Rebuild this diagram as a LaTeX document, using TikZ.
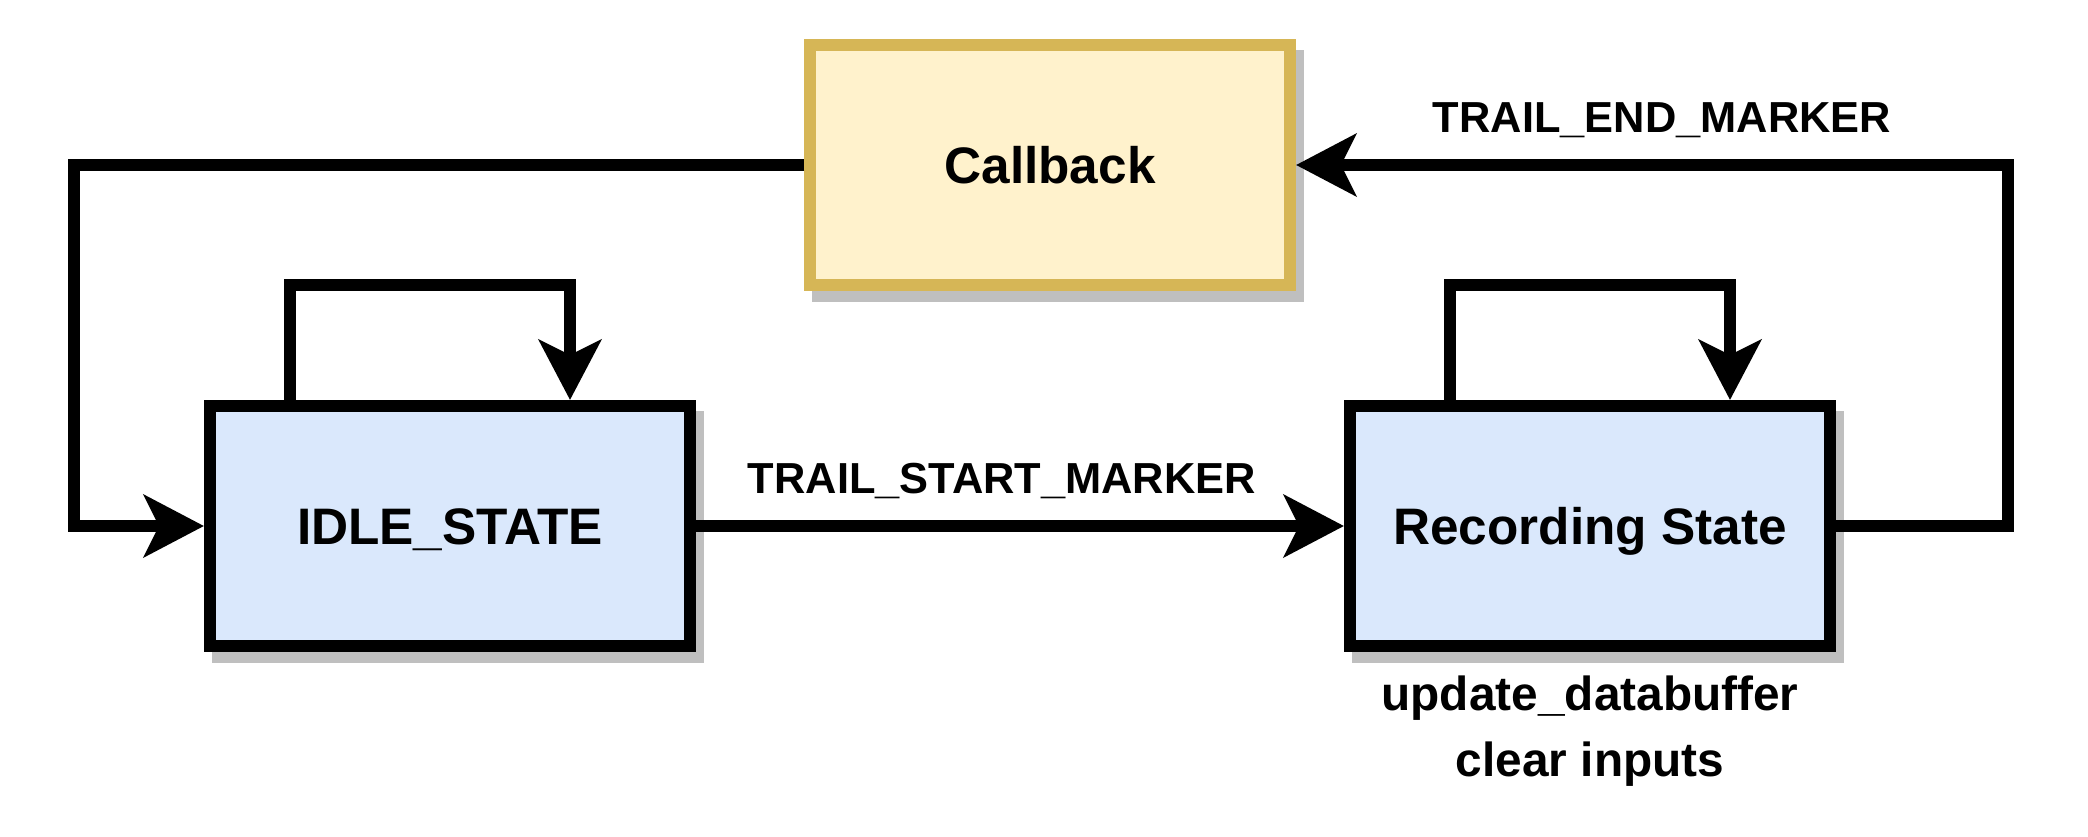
\documentclass[tikz,border=0pt]{standalone}
\usepackage{fontspec}
\setmainfont{Liberation Sans}
\usepackage{xcolor}
\usepackage{tikz}
\usetikzlibrary{arrows.meta,positioning,shadows}
\definecolor{statefill}{HTML}{DAE8FC}
\definecolor{cbfill}{HTML}{FFF2CC}
\definecolor{cbline}{HTML}{D6B656}
\definecolor{shadowgray}{RGB}{191,191,191}
\tikzset{
  statebox/.style={rectangle, draw=black, line width=1.2mm, fill=statefill,
                   minimum width=48mm, minimum height=24mm, align=center,
                   font=\bfseries\fontsize{14.6}{17}\selectfont,
                   text height=10.4pt, text depth=0pt,
                   drop shadow={shadow xshift=0.8mm, shadow yshift=-1.1mm,
                                fill=shadowgray, draw=shadowgray, opacity=1}},
  callbackbox/.style={statebox, draw=cbline, fill=cbfill},
  arr/.style={-{Stealth[length=6mm, width=6.2mm, inset=1.5mm]}, line width=1.2mm, color=black},
  lbl/.style={font=\bfseries\fontsize{12.35}{15}\selectfont, inner sep=0pt, anchor=base},
  notetxt/.style={font=\bfseries\fontsize{13.6}{19}\selectfont, align=center},
}

\begin{document}
\begin{tikzpicture}
  \useasboundingbox (0,0) rectangle (20.88,8.36);
  \node[statebox] (idle) at (4.5,3.1) {IDLE\_STATE};
  \node[statebox, right=6.48cm of idle] (rec) {Recording State};
  \node[callbackbox, above right=1.09cm and 1.08cm of idle] (cb) {Callback};
  \node[notetxt, below=1.1mm of rec] (recnote) {update\_databuffer\\clear inputs};
  \draw[arr] (cb.west) -- ++(-7.30,0) |- (idle.west);
  \draw[arr] ([xshift=-16mm]idle.north) -- ++(0,1.15) -| ([xshift=12mm]idle.north);
  \draw[arr] ([xshift=-14mm]rec.north) -- ++(0,1.15) -| ([xshift=14mm]rec.north);
  \draw[arr] (idle) -- node[lbl, pos=0.472, yshift=3.3mm] {TRAIL\_START\_MARKER} (rec);
  \draw[arr] (rec.east) -- ++(1.72,0) |- node[lbl, pos=0.743, yshift=3.3mm] {TRAIL\_END\_MARKER} (cb.east);
\end{tikzpicture}
\end{document}
